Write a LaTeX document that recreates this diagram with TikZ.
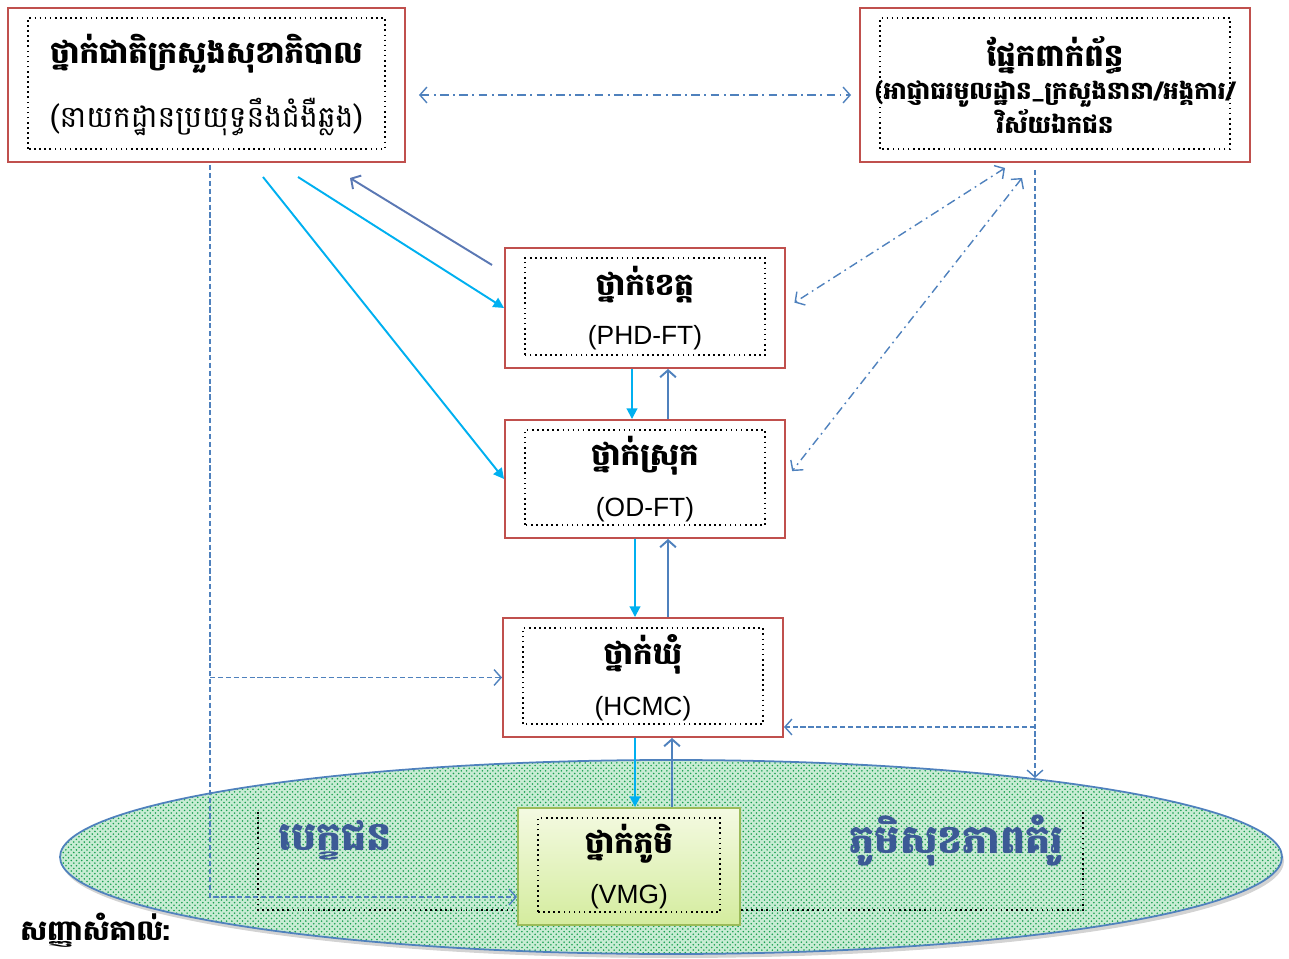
\documentclass[tikz,border=0pt]{standalone}
\usepackage{fontspec}
\setmainfont{Liberation Sans}
\newfontfamily\khmer[Script=Khmer]{Battambang}
\usetikzlibrary{arrows.meta,shapes.geometric,patterns,shadows}
\definecolor{boxred}{RGB}{192,80,77}
\definecolor{lineblue}{RGB}{79,129,189}
\definecolor{backblue}{RGB}{90,120,180}
\definecolor{arrowcyan}{RGB}{0,176,240}
\definecolor{dotgreen}{RGB}{25,160,80}
\definecolor{mintbg}{RGB}{200,236,212}
\definecolor{vmgtop}{RGB}{244,250,226}
\definecolor{vmgbot}{RGB}{212,236,158}
\definecolor{vmgline}{RGB}{155,187,89}
\definecolor{textblue}{RGB}{60,90,150}
\newcommand{\KhHead}[1]{{\khmer\bfseries\fontsize{17.5}{20}\selectfont #1}}
\newcommand{\KhSub}[1]{{\khmer\fontsize{17}{20}\selectfont #1}}
\newcommand{\KhPart}[1]{{\khmer\bfseries\fontsize{14}{16}\selectfont #1}}
\newcommand{\KhArea}[1]{{\khmer\bfseries\color{textblue}\fontsize{22.5}{26}\selectfont #1}}
\newcommand{\Abbr}[1]{{\fontsize{15}{17}\selectfont #1}}

\begin{document}
\begin{tikzpicture}[
  level/.style={draw=boxred, line width=1.1pt, fill=white, align=center, inner sep=0pt,
    minimum width=5.6cm, minimum height=2.4cm,
    path picture={\draw[black, dotted, line width=0.9pt]
      ([shift={(0.4cm,0.26cm)}]path picture bounding box.south west) rectangle
      ([shift={(-0.4cm,-0.2cm)}]path picture bounding box.north east);}},
  down/.style={arrowcyan, line width=1.1pt, -{Triangle[length=6pt,width=6pt]}},
  up/.style={lineblue, line width=1.1pt, -{Straight Barb[length=4pt,width=9pt]}},
  info/.style={lineblue, line width=0.8pt, dash pattern=on 3pt off 1.5pt, -{Straight Barb[length=4pt,width=9pt]}},
  link/.style={lineblue, line width=0.8pt, dash pattern=on 5pt off 2.5pt on 1pt off 2.5pt,
    {Straight Barb[length=4pt,width=9pt]}-{Straight Barb[length=4pt,width=9pt]}},
]
\useasboundingbox (0,0) rectangle (25.78,19.16);

% community ellipse
\node (community) at (13.42,2.02) [ellipse, draw=lineblue, line width=1pt, minimum width=24.44cm, minimum height=3.88cm,
  drop shadow={shadow xshift=0.04cm, shadow yshift=-0.08cm, opacity=0.35}, preaction={fill=mintbg},
  pattern=crosshatch dots, pattern color=dotgreen] {};
\draw[dotted, line width=0.9pt] (5.16,2.92) |- (21.66,0.96) -- (21.66,2.92);
\node (candidate) at (6.7,2.36) {\KhArea{បេក្ខជន}};
\node (model) at (19.13,2.36) {\KhArea{ភូមិសុខភាពគំរូ}};

% levels
\node (moh) at (4.13,17.6) [level, minimum width=7.94cm, minimum height=3.08cm, yshift=-0.14cm]
  {\KhHead{ថ្នាក់ជាតិក្រសួងសុខាភិបាល}\\[0.45cm] \KhSub{(នាយកដ្ឋានប្រយុទ្ធនឹងជំងឺឆ្លង)}};
\node (partner) at (21.1,17.46) [level, minimum width=7.8cm, minimum height=3.08cm]
  {\KhHead{ផ្នែកពាក់ព័ន្ធ}\\[0.1cm] \KhPart{(អាជ្ញាធរមូលដ្ឋាន\_ក្រសួងនានា/អង្គការ/}\\ \KhPart{វិស័យឯកជន}};
\node (phd) at (12.9,13.0) [level] {\KhHead{ថ្នាក់ខេត្ត}\\[0.4cm] \Abbr{(PHD-FT)}};
\node (od) at (12.9,9.58) [level, minimum height=2.36cm] {\KhHead{ថ្នាក់ស្រុក}\\[0.4cm] \Abbr{(OD-FT)}};
\node (hc) at (12.86,5.61) [level, minimum height=2.38cm] {\KhHead{ថ្នាក់ឃុំ}\\[0.4cm] \Abbr{(HCMC)}};
\node (vmg) at (12.58,1.83) [level, draw=vmgline, top color=vmgtop, bottom color=vmgbot,
  minimum width=4.44cm, minimum height=2.34cm] {\KhHead{ថ្នាក់ភូមិ}\\[0.4cm] \Abbr{(VMG)}};

\node (legend) at (0.4,0.56) [anchor=west, inner sep=0pt] {\KhHead{\fontsize{16}{18}\selectfont សញ្ញាសំគាល់:}};

% connectors
\coordinate (l-top) at (4.2,15.86);
\coordinate (r-top) at (20.7,15.76);
\coordinate (r-end) at (20.7,3.6);
\draw[info] (l-top) |- ([yshift=-0.61cm]vmg.west);
\draw[info] (l-top |- hc.west) -- (hc.west);
\draw[info] (r-top) -- (r-end);
\draw[info] (r-top |- 0,4.62) -- ([yshift=-0.99cm]hc.east);
\draw[link, shorten <=0.26cm, shorten >=0.16cm] ([yshift=-0.2cm]moh.east) -- ([yshift=-0.2cm]partner.west);

\coordinate (moh-a) at (5.96,15.62);
\coordinate (moh-b) at (5.26,15.62);
\coordinate (moh-c) at (7.0,15.6);
\path[down] (moh-a) edge (phd.west);
\path[down] (moh-b) edge (od.west);
\path[up, backblue] ([xshift=-0.24cm,yshift=0.86cm]phd.west) edge (moh-c);

\coordinate (part-a) at (20.1,15.8);
\coordinate (part-b) at (20.44,15.6);
\draw[link, shorten >=0.2cm] (part-a) -- (phd.east);
\draw[link, shorten >=0.2cm] (part-b) -- (od.east);

\draw[down] ([xshift=-0.26cm]phd.south) -- ([xshift=-0.26cm]od.north);
\draw[up] ([xshift=0.46cm]od.north) -- ([xshift=0.46cm]phd.south);
\draw[down] ([xshift=-0.2cm]od.south) -- ([xshift=-0.16cm]hc.north);
\draw[up] ([xshift=0.5cm]hc.north) -- ([xshift=0.46cm]od.south);
\draw[down] ([xshift=-0.16cm]hc.south) -- ([xshift=0.12cm]vmg.north);
\draw[up] ([xshift=0.86cm]vmg.north) -- ([xshift=0.58cm]hc.south);
\end{tikzpicture}
\end{document}
